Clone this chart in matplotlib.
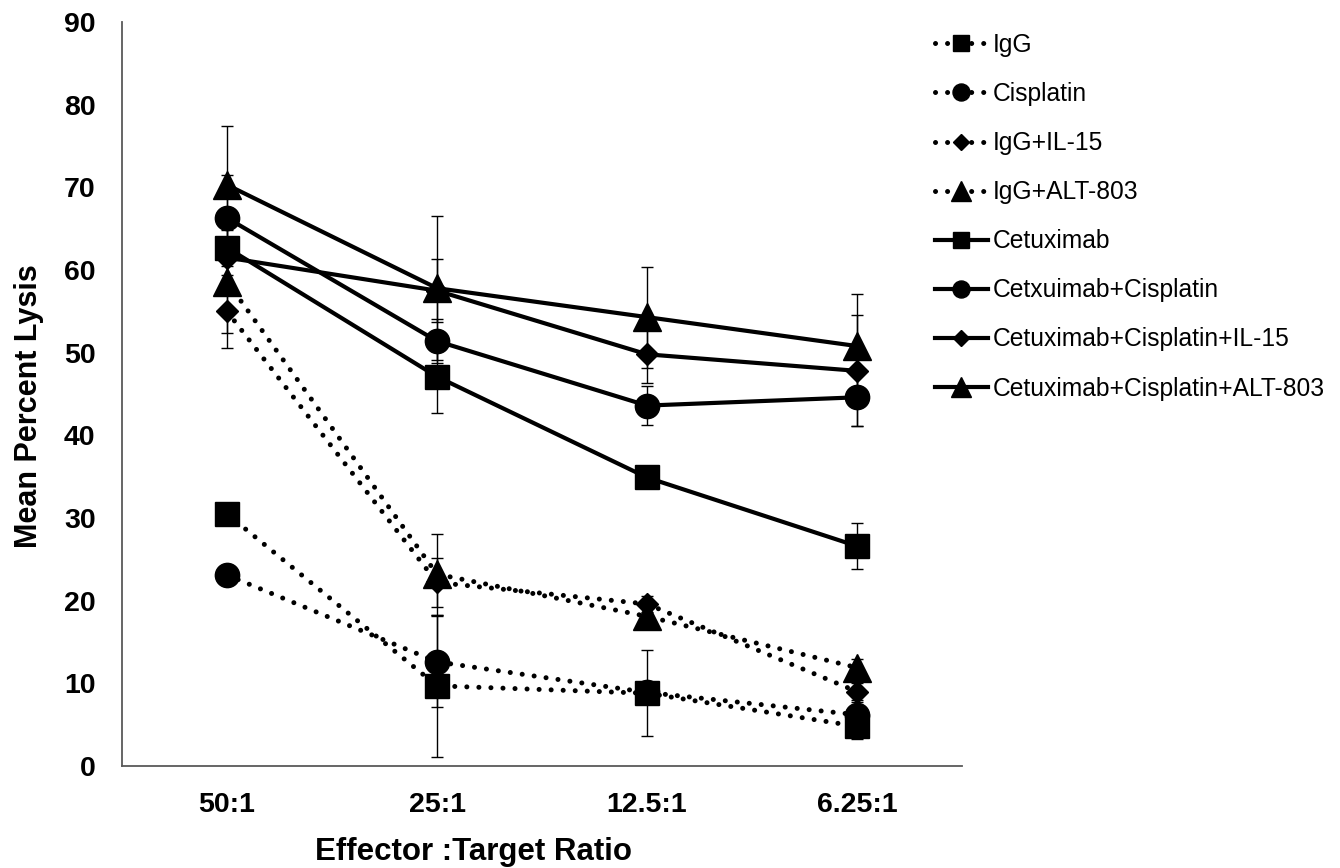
import matplotlib
matplotlib.use("Agg")
import matplotlib.pyplot as plt

plt.rcParams['font.family'] = ['Liberation Sans', 'DejaVu Sans']

# E:T ratios on the x axis
ratios = ['50:1', '25:1', '12.5:1', '6.25:1']

# mean percent lysis
igg = [30.5, 9.7, 8.8, 4.8]
cisplatin = [23.1, 12.6, 8.9, 6.2]
igg_il15 = [55.0, 22.2, 19.6, 9.0]
igg_alt803 = [58.6, 23.2, 18.1, 11.9]
cetuximab = [62.7, 47.1, 34.9, 26.6]
cetux_cis = [66.3, 51.4, 43.6, 44.6]
cetux_cis_il15 = [61.5, 57.5, 49.8, 47.8]
cetux_cis_alt803 = [70.3, 57.8, 54.3, 50.8]

# error bar half-widths (symmetric)
igg_err = [1.0, 8.6, 5.2, 1.5]
cisplatin_err = [1.0, 5.5, 1.0, 1.5]
igg_il15_err = [4.4, 3.0, 1.0, 1.0]
igg_alt803_err = [6.2, 4.9, 1.3, 1.0]
cetuximab_err = [1.0, 4.4, 1.0, 2.8]
cetux_cis_err = [5.2, 2.7, 2.4, 3.5]
cetux_cis_il15_err = [1.0, 3.8, 3.5, 6.7]
cetux_cis_alt803_err = [7.1, 8.7, 6.1, 6.3]

labels = ['IgG', 'Cisplatin', 'IgG+IL-15', 'IgG+ALT-803', 'Cetuximab',
          'Cetxuimab+Cisplatin', 'Cetuximab+Cisplatin+IL-15',
          'Cetuximab+Cisplatin+ALT-803']
values = [igg, cisplatin, igg_il15, igg_alt803, cetuximab, cetux_cis,
          cetux_cis_il15, cetux_cis_alt803]
errors = [igg_err, cisplatin_err, igg_il15_err, igg_alt803_err, cetuximab_err,
          cetux_cis_err, cetux_cis_il15_err, cetux_cis_alt803_err]
markers = ['s', 'o', 'D', '^', 's', 'o', 'D', '^']
sizes = {'s': 17, 'o': 17.5, 'D': 11, '^': 20}
dotted = (0, (0.01, 2.4))

fig = plt.figure(figsize=(13.4, 8.68), dpi=100)
ax = fig.add_axes([122/1340, 1-766/868, 840/1340, 744/868])

x = list(range(len(ratios)))
for i in range(len(labels)):
    ax.errorbar(x, values[i], yerr=errors[i], fmt='none', ecolor='black',
                elinewidth=1.0, capsize=4, capthick=1.0, zorder=1)
for i in range(len(labels)):
    if i < 4:
        ax.plot(x, values[i], linestyle=dotted, linewidth=3.6, color='black',
                dash_capstyle='round', marker=markers[i],
                markersize=sizes[markers[i]], label=labels[i], zorder=2)
    else:
        ax.plot(x, values[i], linestyle='-', linewidth=3.0, color='black',
                marker=markers[i], markersize=sizes[markers[i]],
                label=labels[i], zorder=2)

ax.set_xlim(-0.5, 3.5)
ax.set_ylim(0, 90)
ax.set_yticks(range(0, 91, 10))
ax.set_xticks(x)
ax.set_xticklabels(ratios)
ax.tick_params(length=0, labelsize=20.5, pad=19)
for t in ax.get_xticklabels() + ax.get_yticklabels():
    t.set_fontweight('bold')

for s in ['top', 'right']:
    ax.spines[s].set_visible(False)
for s in ['left', 'bottom']:
    ax.spines[s].set_color('#595959')
    ax.spines[s].set_linewidth(1.3)

ax.set_xlabel('Effector :Target Ratio', fontsize=22.5, fontweight='bold')
ax.xaxis.set_label_coords(0.419, -0.095)
ax.set_ylabel('Mean Percent Lysis', fontsize=22, fontweight='bold')
ax.yaxis.set_label_coords(-0.093, 0.484)

fig.legend(loc='upper left', bbox_to_anchor=(935/1340, 1-33/868),
           frameon=False, fontsize=17.7, markerscale=0.7, handlelength=2.15,
           handletextpad=0.2, labelspacing=1.02, borderpad=0,
           borderaxespad=0)

fig.savefig('out.png', dpi=100)
